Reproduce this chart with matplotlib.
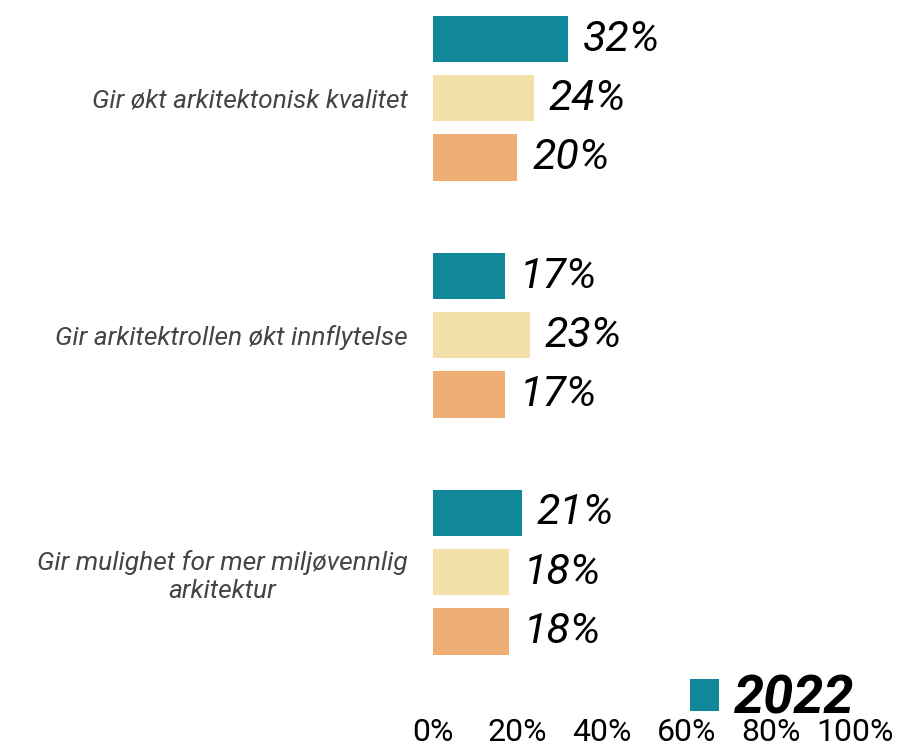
import matplotlib.pyplot as plt
import numpy as np

categories = ["Gir økt arkitektonisk kvalitet",
              "Gir arkitektrollen økt innflytelse",
              "Gir mulighet for mer miljøvennlig\narkitektur"]
# three series per category, only the first one is named in the legend
series_names = ["2022", "", ""]
values = [
    [32, 17, 21],
    [24, 23, 18],
    [20, 17, 18],
]
colors = ["#11889A", "#F3E0A8", "#EDAD73"]
tick_vals = [0, 20, 40, 60, 80, 100]
tick_labels = ["0%", "20%", "40%", "60%", "80%", "100%"]

plt.rcParams['font.family'] = ['Roboto', 'DejaVu Sans']

fig = plt.figure(figsize=(9, 7.46), dpi=100)
ax = fig.add_axes([0.481, 0.0456, 0.469, 0.9544])

group_pos = np.arange(len(categories)) * 4
for i, vals in enumerate(values):
    ys = group_pos + i
    bars = ax.barh(ys, vals, height=0.78, color=colors[i],
                   label=series_names[i] if series_names[i] else None)
    for y, v in zip(ys, vals):
        ax.text(v + 3.5, y, f"{v}%", va="center", ha="left",
                fontsize=31, style="italic", color="black")

ax.set_ylim(11.36, -0.66)
ax.set_xlim(0, 100)
ax.set_yticks(group_pos + 1)
ax.set_yticklabels(categories, fontsize=19, style="italic", color="#444444",
                   ha="right", multialignment="center")
ax.tick_params(axis="y", length=0, pad=18)
ax.set_xticks(tick_vals)
ax.set_xticklabels(tick_labels, fontsize=23)
ax.tick_params(axis="x", length=0, pad=4)
for s in ax.spines.values():
    s.set_visible(False)

leg = fig.legend(loc="lower right", bbox_to_anchor=(0.98, -0.008), frameon=False,
                 borderpad=0, handlelength=0.54, handleheight=0.54, handletextpad=0.28,
                 prop={"size": 39, "weight": "bold", "style": "italic"})

fig.savefig("out.png", dpi=100)
